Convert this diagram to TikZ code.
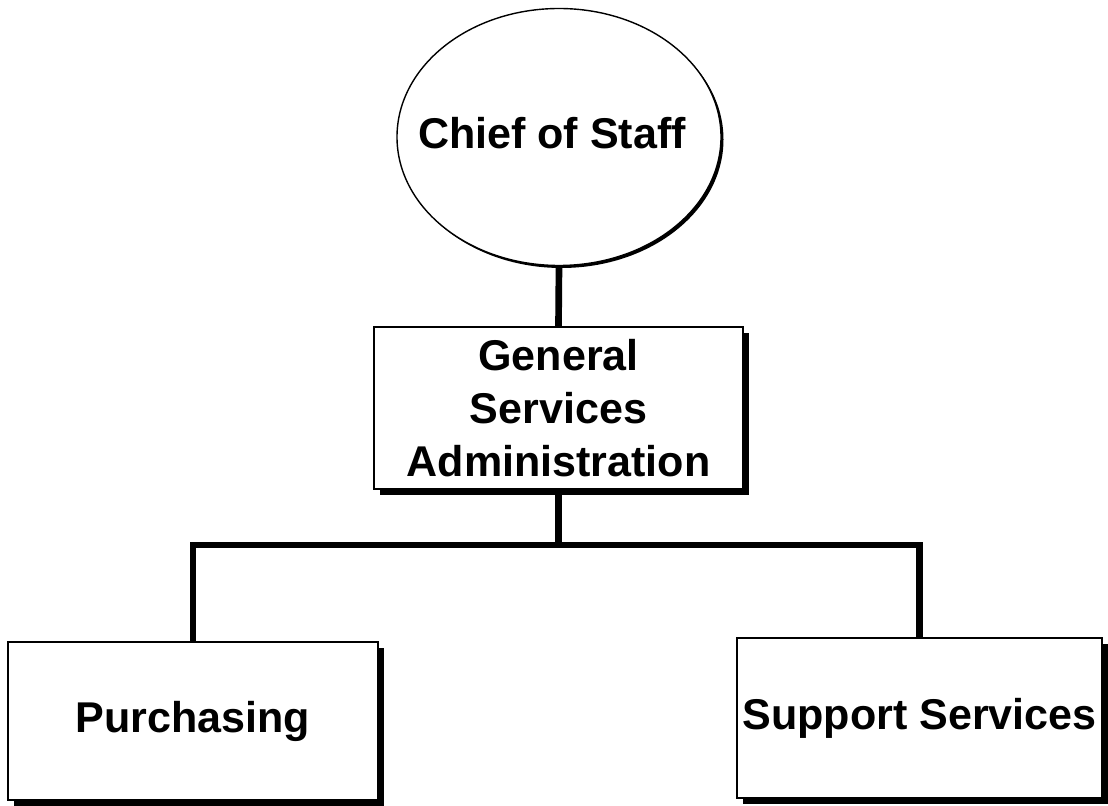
\documentclass[tikz,border=0pt]{standalone}
\usepackage{fontspec}
\setmainfont{Liberation Sans}
\usetikzlibrary{shapes.geometric,shadows}

\begin{document}
\begin{tikzpicture}
[ line width=0.8pt
, office/.style={rectangle, draw, fill=white, align=center, font=\bfseries\fontsize{24.5}{30}\selectfont,
    drop shadow={shadow xshift=0.12cm, shadow yshift=-0.12cm, fill=black, opacity=1}}
, head/.style={ellipse, draw, fill=white,
    drop shadow={shadow xshift=0.05cm, shadow yshift=-0.05cm, fill=black, opacity=1}}
, link/.style={line width=3.8pt}
]
\useasboundingbox (0,0) rectangle (22.16,-16.12);
% Top:
\node (chief) [head, minimum width=6.48cm, minimum height=5.14cm] at (11.18,-2.74) {};
\node (chieftext) [font=\bfseries\fontsize{24.5}{30}\selectfont] at (11.04,-2.66) {Chief of Staff};
% Middle:
\node (gsa) [office, minimum width=7.38cm, minimum height=3.24cm] at (11.17,-8.16)
  {General\\Services\\Administration};
% Bottom:
\node (purch) [office, minimum width=7.4cm, minimum height=3.16cm] at (3.86,-14.42) {Purchasing};
\node (supp) [office, minimum width=7.3cm, minimum height=3.2cm, inner sep=1pt] at (18.39,-14.36) {Support Services};
\coordinate (bus) at (11.17,-10.9);
\draw [link] (chief.south) -- (gsa.north);
\draw [link] (gsa.south) -- (bus);
\draw [link] (purch.north) |- (bus) -| (supp.north);
\end{tikzpicture}
\end{document}
